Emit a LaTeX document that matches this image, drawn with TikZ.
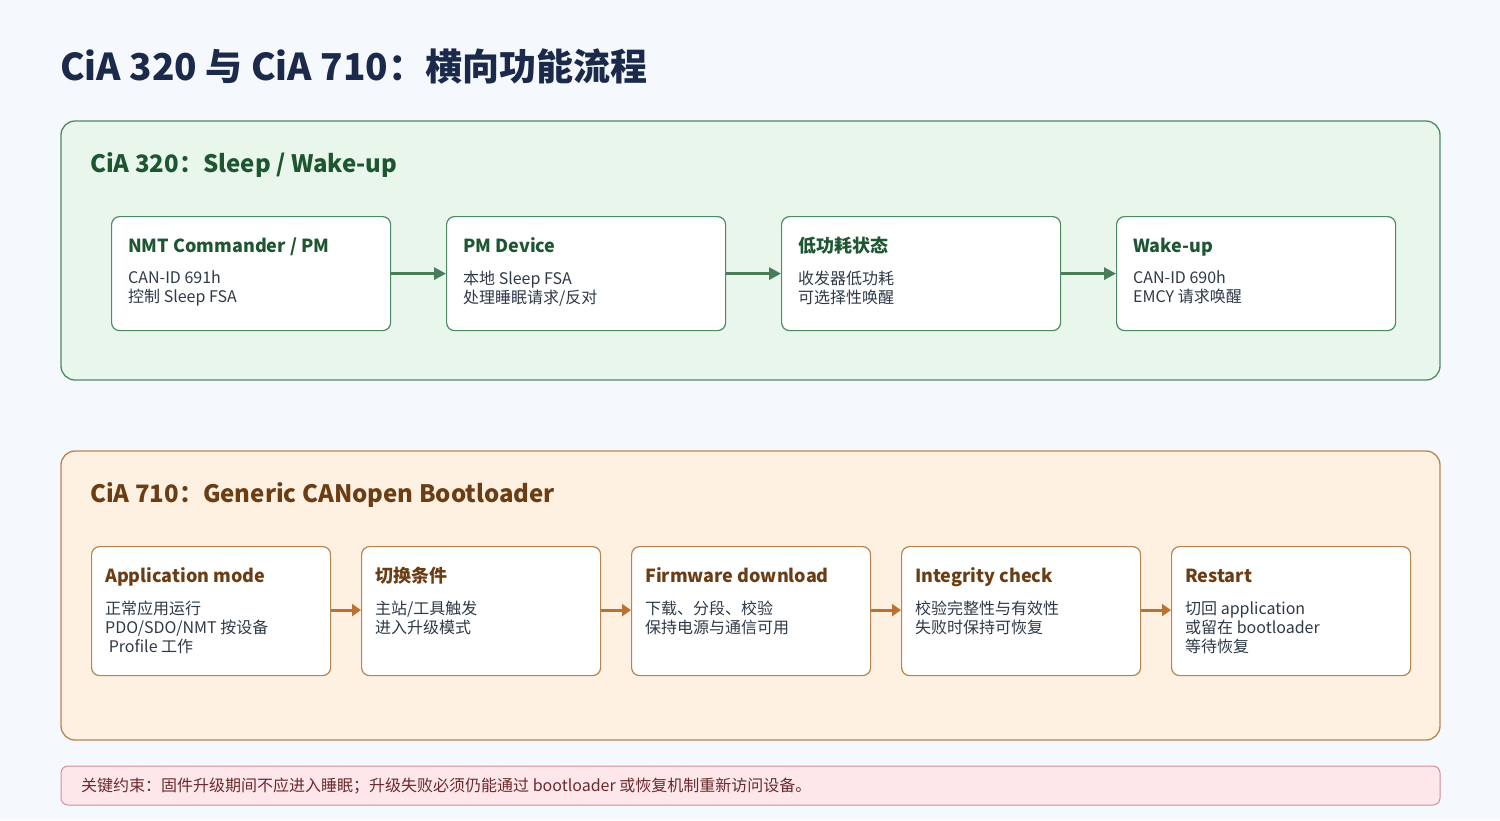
\documentclass[tikz,border=0pt]{standalone}
\usepackage{fontspec}
\setmainfont{Noto Sans CJK SC}
\usetikzlibrary{arrows.meta}
\definecolor{bgc}{HTML}{F5F9FD}
\definecolor{navy}{HTML}{1B2A4A}
\definecolor{gfill}{HTML}{E8F6EC}
\definecolor{gline}{HTML}{4E8A62}
\definecolor{gdark}{HTML}{1E5631}
\definecolor{garrow}{HTML}{4A7C59}
\definecolor{ofill}{HTML}{FEF1E2}
\definecolor{oline}{HTML}{B8844E}
\definecolor{odark}{HTML}{6B3D14}
\definecolor{oarrow}{HTML}{B87333}
\definecolor{rfill}{HTML}{FDE7EA}
\definecolor{rline}{HTML}{D98C99}
\definecolor{rtext}{HTML}{6B2A2A}
\definecolor{bodyc}{HTML}{2E3A48}
\tikzset{
 x=1pt,y=-1pt,
 panel/.style={rounded corners=14pt,line width=1.3pt},
 gbox/.style={draw=gline,fill=white,rounded corners=8pt,line width=1.2pt,minimum width=279pt,minimum height=114pt,anchor=north west,inner sep=0},
 obox/.style={draw=oline,fill=white,rounded corners=8pt,line width=1.2pt,minimum width=239pt,minimum height=129pt,anchor=north west,inner sep=0},
 btitle/.style={anchor=base west,inner sep=0,font=\fontsize{18}{22}\selectfont\bfseries},
 bbody/.style={anchor=north west,inner sep=0,align=left,text=bodyc,font=\fontsize{16}{19}\selectfont},
 garr/.style={-{Triangle[length=12pt,width=12pt]},line width=3pt,draw=garrow},
 oarr/.style={-{Triangle[length=9pt,width=12pt]},line width=3pt,draw=oarrow},
}
\begin{document}
\begin{tikzpicture}
\fill[bgc] (0,0) rectangle (1500,820);
\useasboundingbox (0,0) rectangle (1500,820);
\node[anchor=base west,inner sep=0,text=navy,font=\fontsize{37}{44}\selectfont\bfseries] (title) at (60,80) {CiA 320 与 CiA 710：横向功能流程};
% panel 1
\draw[panel,draw=gline,fill=gfill] (61,121) rectangle (1440,380);
\node[anchor=base west,inner sep=0,text=gdark,font=\fontsize{24}{30}\selectfont\bfseries] (p1) at (90,172) {CiA 320：Sleep / Wake-up};
\foreach \i/\x/\t/\a/\b in {1/111/{NMT Commander / PM}/CAN-ID 691h/控制 Sleep FSA,
  2/446/PM Device/本地 Sleep FSA/{处理睡眠请求/反对},
  3/781/低功耗状态/收发器低功耗/可选择性唤醒,
  4/1116/Wake-up/CAN-ID 690h/EMCY 请求唤醒}{
 \node[gbox] (g\i) at (\x,216) {};
 \node[btitle,text=gdark] (gt\i) at (\x+17,252) {\t};
 \node[bbody] (gb\i) at (\x+17,271) {\a\\\b};
}
\foreach \i/\j in {1/2,2/3,3/4}{\draw[garr] (g\i.east) -- (g\j.west);}
% panel 2
\draw[panel,draw=oline,fill=ofill] (61,451) rectangle (1440,740);
\node[anchor=base west,inner sep=0,text=odark,font=\fontsize{24}{30}\selectfont\bfseries] (p2) at (90,502) {CiA 710：Generic CANopen Bootloader};
\foreach \i/\x/\t/\body in {1/91/Application mode/{正常应用运行\\PDO/SDO/NMT 按设备\\\ Profile 工作},
  2/361/切换条件/{主站/工具触发\\进入升级模式},
  3/631/Firmware download/{下载、分段、校验\\保持电源与通信可用},
  4/901/Integrity check/{校验完整性与有效性\\失败时保持可恢复},
  5/1171/Restart/{切回 application\\或留在 bootloader\\等待恢复}}{
 \node[obox] (o\i) at (\x,546) {};
 \node[btitle,text=odark] (ot\i) at (\x+14,582) {\t};
 \node[bbody] (ob\i) at (\x+14,601) {\body};
}
\foreach \i/\j in {1/2,2/3,3/4,4/5}{\draw[oarr] ([yshift=1pt]o\i.east) -- ([yshift=1pt]o\j.west);}
% bottom bar
\draw[draw=rline,fill=rfill,rounded corners=7pt,line width=1pt] (61,766) rectangle (1440,805);
\node[anchor=west,inner sep=0,text=rtext,font=\fontsize{16}{19}\selectfont] (note) at (81,786) {关键约束：固件升级期间不应进入睡眠；升级失败必须仍能通过 bootloader 或恢复机制重新访问设备。};
\end{tikzpicture}
\end{document}
